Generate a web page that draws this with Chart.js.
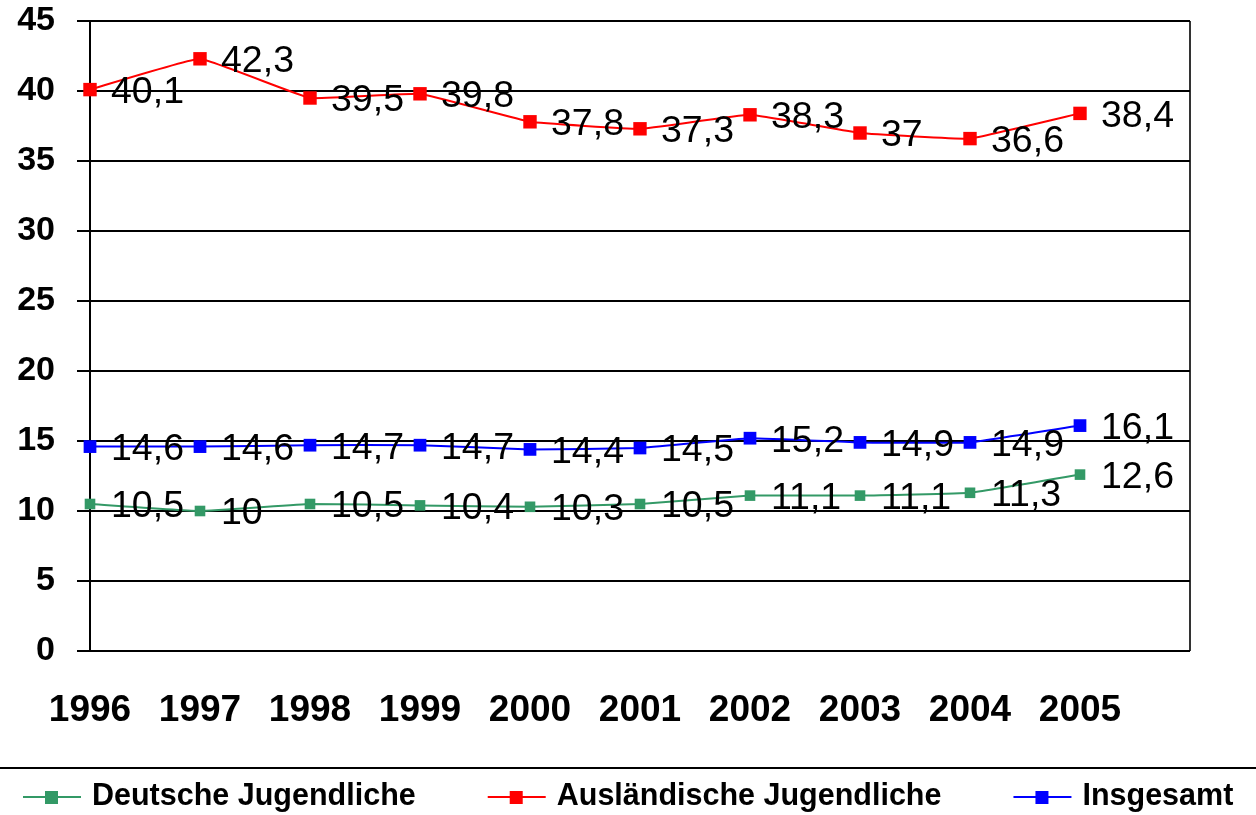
<!DOCTYPE html>
<html>
<head>
<meta charset="utf-8">
<script src="https://cdn.jsdelivr.net/npm/chart.js@4/dist/chart.umd.min.js"></script>
<style>
  html, body { margin: 0; padding: 0; background: #fff; }
  #wrap { width: 1256px; height: 815px; position: relative; }
</style>
</head>
<body>
<div id="wrap"><canvas id="chart"></canvas></div>
<script>
// data
var years = ['1996', '1997', '1998', '1999', '2000', '2001', '2002', '2003', '2004', '2005'];
var deutsche = [10.5, 10, 10.5, 10.4, 10.3, 10.5, 11.1, 11.1, 11.3, 12.6];
var auslaendische = [40.1, 42.3, 39.5, 39.8, 37.8, 37.3, 38.3, 37, 36.6, 38.4];
var insgesamt = [14.6, 14.6, 14.7, 14.7, 14.4, 14.5, 15.2, 14.9, 14.9, 16.1];
var yTicks = [0, 5, 10, 15, 20, 25, 30, 35, 40, 45];

var FONT = '"Liberation Sans", Arial, sans-serif';

function toPoints(values){
	return values.map(function(v, i){ return {x: i, y: v}; });
}

function makeSet(label, values, color, radius){
	return {
		label: label,
		data: toPoints(values),
		borderColor: color,
		backgroundColor: color,
		borderWidth: 2,
		pointStyle: 'rect',
		pointRadius: radius,
		pointBorderWidth: 0,
		tension: 0.08,
		clip: false
	};
}

// value labels right of each point
var valueLabels = {
	id: 'valueLabels',
	afterDatasetsDraw: function(chart){
		var ctx = chart.ctx;
		ctx.save();
		ctx.font = '37.5px ' + FONT;
		ctx.fillStyle = '#000';
		ctx.textAlign = 'left';
		ctx.textBaseline = 'middle';
		chart.data.datasets.forEach(function(ds, di){
			var meta = chart.getDatasetMeta(di);
			meta.data.forEach(function(pt, i){
				var txt = String(ds.data[i].y).replace('.', ',');
				ctx.fillText(txt, pt.x + 21, pt.y + 3);
			});
		});
		ctx.restore();
	}
};

// legend at the bottom with line + marker
var bottomLegend = {
	id: 'bottomLegend',
	afterDraw: function(chart){
		var ctx = chart.ctx;
		var w = chart.width;
		ctx.save();
		ctx.strokeStyle = '#000';
		ctx.lineWidth = 2;
		ctx.beginPath();
		ctx.moveTo(0, 768);
		ctx.lineTo(w, 768);
		ctx.stroke();

		ctx.font = 'bold 30.5px ' + FONT;
		ctx.textBaseline = 'middle';
		ctx.textAlign = 'left';
		var x = 23;
		var y = 797;
		chart.data.datasets.forEach(function(ds){
			ctx.strokeStyle = ds.borderColor;
			ctx.lineWidth = 2;
			ctx.beginPath();
			ctx.moveTo(x, y);
			ctx.lineTo(x + 58, y);
			ctx.stroke();
			ctx.fillStyle = ds.borderColor;
			ctx.fillRect(x + 22, y - 6, 13, 13);
			ctx.fillStyle = '#000';
			ctx.fillText(ds.label, x + 69, y);
			x += 69 + ctx.measureText(ds.label).width + 72;
		});
		ctx.restore();
	}
};

var ctx = document.getElementById('chart');
var myChart = new Chart(ctx, {
	type: 'line',
	data: {
		datasets: [
			makeSet('Deutsche Jugendliche', deutsche, '#339966', 7.5),
			makeSet('Ausländische Jugendliche', auslaendische, '#ff0000', 9.5),
			makeSet('Insgesamt', insgesamt, '#0000ff', 9)
		]
	},
	options: {
		responsive: true,
		maintainAspectRatio: false,
		animation: false,
		layout: { padding: { top: 21, right: 66, left: 0, bottom: 0 } },
		plugins: {
			legend: { display: false },
			tooltip: { enabled: false }
		},
		scales: {
			x: {
				type: 'linear',
				min: 0,
				max: 10,
				afterFit: function(s){ s.height = 164; s.paddingLeft = 0; s.paddingRight = 0; },
				afterBuildTicks: function(s){
					s.ticks = years.map(function(y, i){ return {value: i}; }).concat([{value: 10}]);
				},
				ticks: {
					autoSkip: false,
					maxRotation: 0,
					padding: 38,
					color: '#000',
					font: { family: FONT, size: 37, weight: 'bold' },
					callback: function(v){ return years[v] || ''; }
				},
				grid: {
					drawTicks: false,
					lineWidth: 2,
					color: function(c){ return c.tick && c.tick.value === 10 ? '#333' : 'rgba(0,0,0,0)'; }
				},
				border: { display: false }
			},
			y: {
				min: 0,
				max: 45,
				afterFit: function(s){ s.width = 90; s.paddingTop = 0; s.paddingBottom = 0; },
				afterBuildTicks: function(s){
					s.ticks = yTicks.map(function(v){ return {value: v}; });
				},
				ticks: {
					padding: 22,
					color: '#000',
					font: { family: FONT, size: 34, weight: 'bold' }
				},
				grid: {
					color: '#000',
					lineWidth: 2,
					tickLength: 13,
					tickColor: '#000'
				},
				border: { display: true, color: '#000', width: 2 }
			}
		}
	},
	plugins: [valueLabels, bottomLegend]
});
</script>
</body>
</html>
